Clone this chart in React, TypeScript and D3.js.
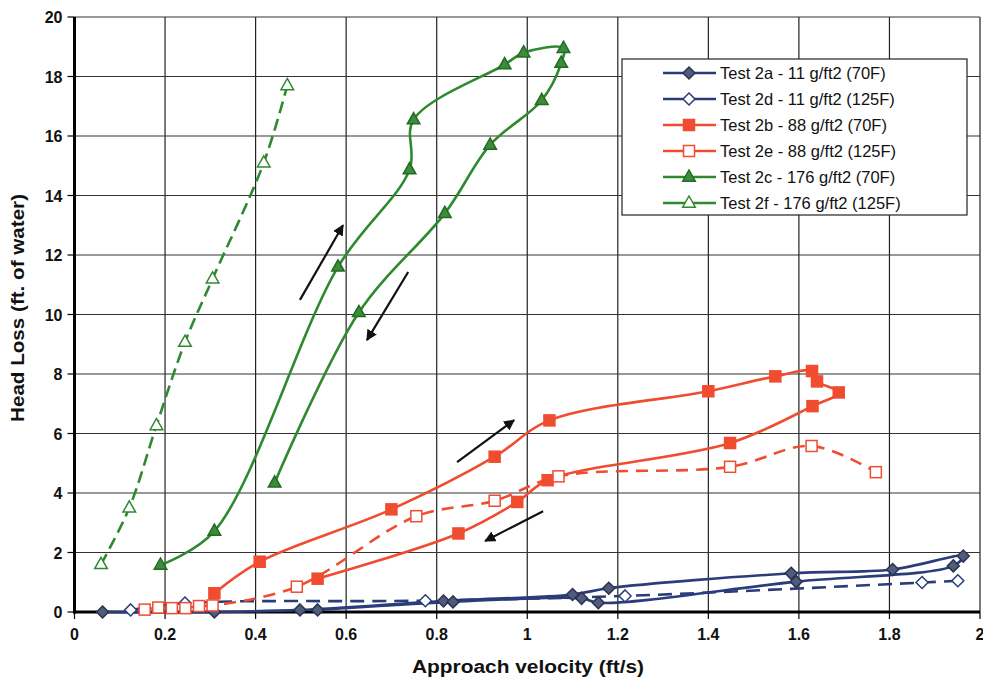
import React from "react";
import * as d3 from "d3";

const W = 983;
const H = 683;

const xTicks = [0, 0.2, 0.4, 0.6, 0.8, 1, 1.2, 1.4, 1.6, 1.8, 2];
const xTickLabels = ["0", "0.2", "0.4", "0.6", "0.8", "1", "1.2", "1.4", "1.6", "1.8", "2"];
const yTicks = [0, 2, 4, 6, 8, 10, 12, 14, 16, 18, 20];
const yTickLabels = ["0", "2", "4", "6", "8", "10", "12", "14", "16", "18", "20"];

const test2a: [number, number][] = [
  [0.062, 0], [0.309, 0], [0.498, 0.07], [0.815, 0.37], [1.10, 0.59], [1.18, 0.80],
  [1.583, 1.30], [1.807, 1.43], [1.963, 1.88], [1.941, 1.55], [1.594, 1.02],
  [1.157, 0.31], [1.12, 0.46], [0.836, 0.34], [0.537, 0.07],
];
const test2d: [number, number][] = [
  [0.124, 0.07], [0.244, 0.3], [0.775, 0.38], [1.216, 0.54], [1.872, 0.99], [1.951, 1.05],
];
const test2b: [number, number][] = [
  [0.309, 0.63], [0.409, 1.69], [0.70, 3.45], [0.928, 5.22], [1.049, 6.44], [1.40, 7.42],
  [1.548, 7.92], [1.629, 8.1], [1.64, 7.75], [1.688, 7.38], [1.63, 6.92], [1.448, 5.68],
  [1.045, 4.43], [0.978, 3.7], [0.848, 2.64], [0.537, 1.12],
];
const test2e: [number, number][] = [
  [0.155, 0.08], [0.185, 0.15], [0.215, 0.13], [0.245, 0.13], [0.275, 0.2], [0.305, 0.22],
  [0.491, 0.85], [0.755, 3.22], [0.928, 3.74], [1.069, 4.56], [1.448, 4.88], [1.628, 5.58],
  [1.77, 4.70],
];
const test2c: [number, number][] = [
  [0.19, 1.58], [0.309, 2.72], [0.582, 11.6], [0.74, 14.87], [0.749, 16.55], [0.95, 18.4],
  [0.992, 18.8], [1.08, 18.95], [1.075, 18.45], [1.032, 17.2], [0.918, 15.7], [0.818, 13.4],
  [0.628, 10.07], [0.442, 4.34],
];
const test2f: [number, number][] = [
  [0.0585, 1.6], [0.121, 3.5], [0.181, 6.27], [0.244, 9.07], [0.305, 11.2], [0.418, 15.1], [0.47, 17.7],
];

const seriesNames = [
  "Test 2a - 11 g/ft2 (70F)",
  "Test 2d - 11 g/ft2 (125F)",
  "Test 2b - 88 g/ft2 (70F)",
  "Test 2e - 88 g/ft2 (125F)",
  "Test 2c - 176 g/ft2 (70F)",
  "Test 2f - 176 g/ft2 (125F)",
];

// arrows in data units: [x1,y1,x2,y2]
const arrows: [number, number, number, number][] = [
  [0.498, 10.49, 0.593, 13.0],
  [0.737, 11.43, 0.646, 9.14],
  [0.845, 5.04, 0.971, 6.45],
  [1.035, 3.39, 0.907, 2.39],
];

const BLUE = "#2b3c7a";
const BLUE_FILL = "#505c7c";
const RED = "#f04c30";
const GREEN = "#2f8a2f";

type Series = {
  name: string;
  data: [number, number][];
  color: string;
  dash?: string;
  marker: "diamond" | "square" | "triangle";
  filled: boolean;
  fill: string;
};

const series: Series[] = [
  { name: seriesNames[0], data: test2a, color: BLUE, marker: "diamond", filled: true, fill: BLUE_FILL },
  { name: seriesNames[1], data: test2d, color: BLUE, dash: "14,8", marker: "diamond", filled: false, fill: "#fff" },
  { name: seriesNames[2], data: test2b, color: RED, marker: "square", filled: true, fill: RED },
  { name: seriesNames[3], data: test2e, color: RED, dash: "12,8", marker: "square", filled: false, fill: "#fff" },
  { name: seriesNames[4], data: test2c, color: GREEN, marker: "triangle", filled: true, fill: "#3c8c3c" },
  { name: seriesNames[5], data: test2f, color: GREEN, dash: "12,6", marker: "triangle", filled: false, fill: "#fff" },
];

const x = d3.scaleLinear().domain([0, 2]).range([74.5, 980]);
const y = d3.scaleLinear().domain([0, 20]).range([612, 17]);

function Marker({ kind, cx, cy, color, fill }: { kind: string; cx: number; cy: number; color: string; fill: string }) {
  if (kind === "diamond") {
    const r = 6;
    return (
      <path
        d={`M${cx},${cy - r}L${cx + r},${cy}L${cx},${cy + r}L${cx - r},${cy}Z`}
        fill={fill}
        stroke={fill === "#fff" ? color : "#2a3350"}
        strokeWidth={1.5}
      />
    );
  }
  if (kind === "square") {
    const s = 5.5;
    return (
      <rect x={cx - s} y={cy - s} width={2 * s} height={2 * s} fill={fill} stroke={color} strokeWidth={1.5} />
    );
  }
  const r = 7;
  return (
    <path
      d={`M${cx},${cy - r}L${cx + r * 0.9},${cy + r * 0.6}L${cx - r * 0.9},${cy + r * 0.6}Z`}
      fill={fill}
      stroke={fill === "#fff" ? color : "#236b23"}
      strokeWidth={1.5}
    />
  );
}

export default function App() {
  const line = d3
    .line<[number, number]>()
    .x((d) => x(d[0]))
    .y((d) => y(d[1]))
    .curve(d3.curveCatmullRom.alpha(0.5));

  const font = "'Liberation Sans', Arial, sans-serif";

  const legendX = 622;
  const legendY = 59;
  const legendW = 345;
  const legendH = 156;
  const rowH = 26;

  return (
    <svg
      width={W}
      height={H}
      viewBox={`0 0 ${W} ${H}`}
      style={{ position: "absolute", left: 0, top: 0, background: "#fff" }}
      fontFamily={font}
    >
      <defs>
        <marker id="ah" viewBox="0 0 10 10" refX="9" refY="5" markerWidth="5" markerHeight="5" orient="auto">
          <path d="M0,0L10,5L0,10Z" fill="#111" />
        </marker>
      </defs>
      <rect x={0} y={0} width={W} height={H} fill="#fff" />

      {/* grid */}
      {xTicks.map((t) => (
        <line key={"gx" + t} x1={x(t)} x2={x(t)} y1={y(20)} y2={y(0)} stroke="#222" strokeWidth={1.2} />
      ))}
      {yTicks.map((t) => (
        <line key={"gy" + t} x1={x(0)} x2={x(2)} y1={y(t)} y2={y(t)} stroke="#333" strokeWidth={1.2} />
      ))}

      {/* axes */}
      <line x1={x(0)} x2={x(0)} y1={y(20)} y2={y(0) + 1.5} stroke="#000" strokeWidth={3} />
      <line x1={x(0) - 1.5} x2={x(2)} y1={y(0)} y2={y(0)} stroke="#000" strokeWidth={3} />
      {yTicks.map((t) => (
        <line key={"ty" + t} x1={x(0) - 7} x2={x(0)} y1={y(t)} y2={y(t)} stroke="#000" strokeWidth={1.2} />
      ))}
      {xTicks.map((t) => (
        <line key={"tx" + t} x1={x(t)} x2={x(t)} y1={y(0)} y2={y(0) + 7} stroke="#000" strokeWidth={1.2} />
      ))}

      {/* tick labels */}
      {yTicks.map((t, i) => (
        <text key={"ly" + t} x={x(0) - 12} y={y(t) + 6} textAnchor="end" fontSize={16} fontWeight="bold" fill="#111">
          {yTickLabels[i]}
        </text>
      ))}
      {xTicks.map((t, i) => (
        <text key={"lx" + t} x={x(t)} y={640} textAnchor="middle" fontSize={16} fontWeight="bold" fill="#111">
          {xTickLabels[i]}
        </text>
      ))}

      {/* axis titles */}
      <text
        x={528}
        y={673}
        textAnchor="middle"
        fontSize={18}
        fontWeight="bold"
        fill="#111"
        textLength={232}
        lengthAdjust="spacingAndGlyphs"
      >
        Approach velocity (ft/s)
      </text>
      <text
        transform={`translate(24, 308) rotate(-90)`}
        textAnchor="middle"
        fontSize={18}
        fontWeight="bold"
        fill="#111"
        textLength={228}
        lengthAdjust="spacingAndGlyphs"
      >
        Head Loss (ft. of water)
      </text>

      {/* series lines */}
      {series.map((s) => (
        <path
          key={"l" + s.name}
          d={line(s.data) || ""}
          fill="none"
          stroke={s.color}
          strokeWidth={2.6}
          strokeDasharray={s.dash}
        />
      ))}
      {/* markers */}
      {series.map((s) =>
        s.data.map((d, i) => (
          <Marker key={s.name + i} kind={s.marker} cx={x(d[0])} cy={y(d[1])} color={s.color} fill={s.fill} />
        ))
      )}

      {/* arrows */}
      {arrows.map((a, i) => (
        <line
          key={"a" + i}
          x1={x(a[0])}
          y1={y(a[1])}
          x2={x(a[2])}
          y2={y(a[3])}
          stroke="#111"
          strokeWidth={2.2}
          markerEnd="url(#ah)"
        />
      ))}

      {/* legend */}
      <rect x={legendX} y={legendY} width={legendW} height={legendH} fill="#fff" stroke="#222" strokeWidth={1.2} />
      {series.map((s, i) => {
        const cy = legendY + 14 + i * rowH;
        return (
          <g key={"lg" + i}>
            <line x1={663} x2={716} y1={cy} y2={cy} stroke={s.color} strokeWidth={2.6} />
            <Marker kind={s.marker} cx={689} cy={cy} color={s.color} fill={s.fill} />
            <text x={720} y={cy + 6} fontSize={16.5} fill="#111">
              {s.name}
            </text>
          </g>
        );
      })}
    </svg>
  );
}
